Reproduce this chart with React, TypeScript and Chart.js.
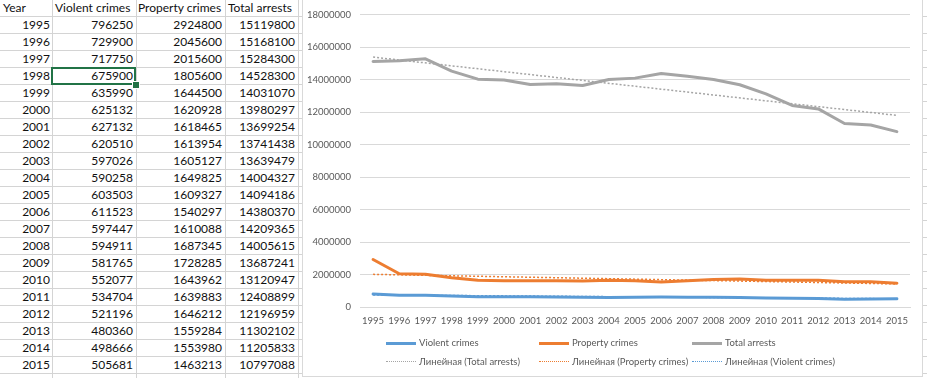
import React, { useEffect, useRef } from "react";
import { Chart, registerables } from "chart.js";

Chart.register(...registerables);

// ---------------- data ----------------
const years = [
  "1995", "1996", "1997", "1998", "1999", "2000", "2001", "2002", "2003", "2004",
  "2005", "2006", "2007", "2008", "2009", "2010", "2011", "2012", "2013", "2014", "2015",
];
const violentCrimes = [
  796250, 729900, 717750, 675900, 635990, 625132, 627132, 620510, 597026, 590258,
  603503, 611523, 597447, 594911, 581765, 552077, 534704, 521196, 480360, 498666, 505681,
];
const propertyCrimes = [
  2924800, 2045600, 2015600, 1805600, 1644500, 1620928, 1618465, 1613954, 1605127, 1649825,
  1609327, 1540297, 1610088, 1687345, 1728285, 1643962, 1639883, 1646212, 1559284, 1553980, 1463213,
];
const totalArrests = [
  15119800, 15168100, 15284300, 14528300, 14031070, 13980297, 13699254, 13741438, 13639479, 14004327,
  14094186, 14380370, 14209365, 14005615, 13687241, 13120947, 12408899, 12196959, 11302102, 11205833, 10797088,
];
// linear trend lines, end values (straight line between them)
const trendTotalEnds = [15390000, 11800000];
const trendPropertyEnds = [2010000, 1420000];
const trendViolentEnds = [745000, 505000];

const headers = ["Year", "Violent crimes", "Property crimes", "Total arrests"];
const seriesNames = ["Violent crimes", "Property crimes", "Total arrests"];
const trendNames = ["Линейная (Total arrests)", "Линейная (Property crimes)", "Линейная (Violent crimes)"];
const yMax = 18000000;
const yStep = 2000000;

// ---------------- styles ----------------
const BLUE = "#5B9BD5";
const ORANGE = "#ED7D31";
const GRAY = "#A5A5A5";
const TEXT = "#595959";
const FONT = "Lato, 'Noto Sans', sans-serif";

function endsToSeries(ends: number[]): (number | null)[] {
  return years.map((_, i) => (i === 0 ? ends[0] : i === years.length - 1 ? ends[1] : null));
}

const ROW_H = 17;
const FIRST_LINE = 16;
const colLines = [52, 136, 225, 298];
const cols: [number, number][] = [
  [3, 50],
  [55, 133],
  [138, 222],
  [228, 295],
];

function Table() {
  const rows = years.map((y, i) => [y, String(violentCrimes[i]), String(propertyCrimes[i]), String(totalArrests[i])]);
  const items: React.ReactNode[] = [];
  for (let k = 0; k <= 21; k++) {
    items.push(
      <div key={"h" + k} style={{ position: "absolute", left: 0, width: 927, top: FIRST_LINE + ROW_H * k, height: 1, background: "#D4D4D4" }} />
    );
  }
  colLines.forEach((x, i) =>
    items.push(<div key={"v" + i} style={{ position: "absolute", left: x, top: 0, width: 1, height: 378, background: "#D4D4D4" }} />)
  );
  const cellText = (txt: string, r: number, c: number, left: boolean) => {
    const center = 7.5 + ROW_H * r;
    items.push(
      <div
        key={`t${r}-${c}`}
        style={{
          position: "absolute",
          top: center - 8,
          height: 16,
          lineHeight: "16px",
          left: left ? cols[c][0] : undefined,
          right: left ? undefined : 927 - cols[c][1],
          whiteSpace: "nowrap",
          fontFamily: FONT,
          fontSize: 12,
          color: "#111",
        }}
      >
        {txt}
      </div>
    );
  };
  headers.forEach((h, c) => cellText(h, 0, c, true));
  rows.forEach((row, r) => row.forEach((v, c) => cellText(v, r + 1, c, false)));
  const selTop = FIRST_LINE + ROW_H * 3;
  items.push(
    <div key="sel" style={{ position: "absolute", left: 51, top: selTop, width: 85, height: ROW_H + 1, border: "2px solid #217346", boxSizing: "border-box" }} />
  );
  items.push(
    <div key="handle" style={{ position: "absolute", left: 132, top: selTop + 14, width: 6, height: 6, background: "#217346", border: "1px solid #fff", boxSizing: "content-box" }} />
  );
  return <>{items}</>;
}

function Legend() {
  const entry = (key: string, x: number, y: number, color: string, name: string, dotted: boolean) => (
    <React.Fragment key={key}>
      <div
        style={{
          position: "absolute",
          left: x,
          top: dotted ? y - 1 : y - 1.5,
          width: 30,
          height: 0,
          borderTop: dotted ? `1.5px dotted ${color}` : `3px solid ${color}`,
        }}
      />
      <div
        style={{
          position: "absolute",
          left: x + 33,
          top: y - 7,
          height: 14,
          lineHeight: "14px",
          fontFamily: FONT,
          fontSize: 9.5,
          color: TEXT,
          whiteSpace: "nowrap",
        }}
      >
        {name}
      </div>
    </React.Fragment>
  );
  return (
    <>
      {entry("l0", 386, 343, BLUE, seriesNames[0], false)}
      {entry("l1", 539, 343, ORANGE, seriesNames[1], false)}
      {entry("l2", 692, 343, GRAY, seriesNames[2], false)}
      {entry("l3", 386, 362, GRAY, trendNames[0], true)}
      {entry("l4", 539, 362, ORANGE, trendNames[1], true)}
      {entry("l5", 692, 362, BLUE, trendNames[2], true)}
    </>
  );
}

export default function App() {
  const ref = useRef<HTMLCanvasElement | null>(null);

  useEffect(() => {
    document.body.style.margin = "0";
    const ctx = ref.current;
    if (!ctx) return;
    const solid = (label: string, data: number[], color: string) => ({
      label,
      data,
      borderColor: color,
      backgroundColor: color,
      borderWidth: 3,
      pointRadius: 0,
      tension: 0,
      borderJoinStyle: "round" as const,
      borderCapStyle: "round" as const,
      order: 2,
    });
    const trend = (label: string, ends: number[], color: string) => ({
      label,
      data: endsToSeries(ends),
      borderColor: color,
      backgroundColor: color,
      borderWidth: 1.5,
      borderDash: [2, 2],
      pointRadius: 0,
      spanGaps: true,
      order: 1,
    });
    const chart = new Chart(ctx, {
      type: "line",
      data: {
        labels: years,
        datasets: [
          solid(seriesNames[0], violentCrimes, BLUE),
          solid(seriesNames[1], propertyCrimes, ORANGE),
          solid(seriesNames[2], totalArrests, GRAY),
          trend(trendNames[0], trendTotalEnds, GRAY),
          trend(trendNames[1], trendPropertyEnds, ORANGE),
          trend(trendNames[2], trendViolentEnds, BLUE),
        ],
      },
      options: {
        animation: false,
        responsive: false,
        devicePixelRatio: 1,
        layout: { padding: { left: 0, right: 12, top: 12, bottom: 0 } },
        plugins: { legend: { display: false }, tooltip: { enabled: false } },
        scales: {
          x: {
            offset: true,
            grid: { display: false, drawTicks: false },
            border: { display: true, color: "#D9D9D9", width: 1 },
            ticks: { color: TEXT, font: { family: FONT, size: 9.5 }, maxRotation: 0, autoSkip: false, padding: 8 },
            afterFit: (s: any) => {
              s.height = 69;
            },
          },
          y: {
            min: 0,
            max: yMax,
            grid: { color: "#D9D9D9", drawTicks: false },
            border: { display: false },
            ticks: {
              stepSize: yStep,
              color: TEXT,
              font: { family: FONT, size: 9.5 },
              padding: 9,
              callback: (v: any) => String(v),
            },
            afterFit: (s: any) => {
              s.width = 57;
            },
          },
        },
      },
    });
    return () => chart.destroy();
  }, []);

  return (
    <div style={{ position: "relative", width: 927, height: 378, overflow: "hidden", background: "#fff" }}>
      <Table />
      <div
        style={{
          position: "absolute",
          left: 302,
          top: 0,
          width: 621,
          height: 377,
          boxSizing: "border-box",
          borderLeft: "1px solid #D9D9D9",
          borderRight: "1px solid #D9D9D9",
          borderBottom: "1px solid #D9D9D9",
          background: "#fff",
        }}
      >
        <canvas ref={ref} width={619} height={376} style={{ display: "block", width: 619, height: 376 }} />
      </div>
      <Legend />
    </div>
  );
}
